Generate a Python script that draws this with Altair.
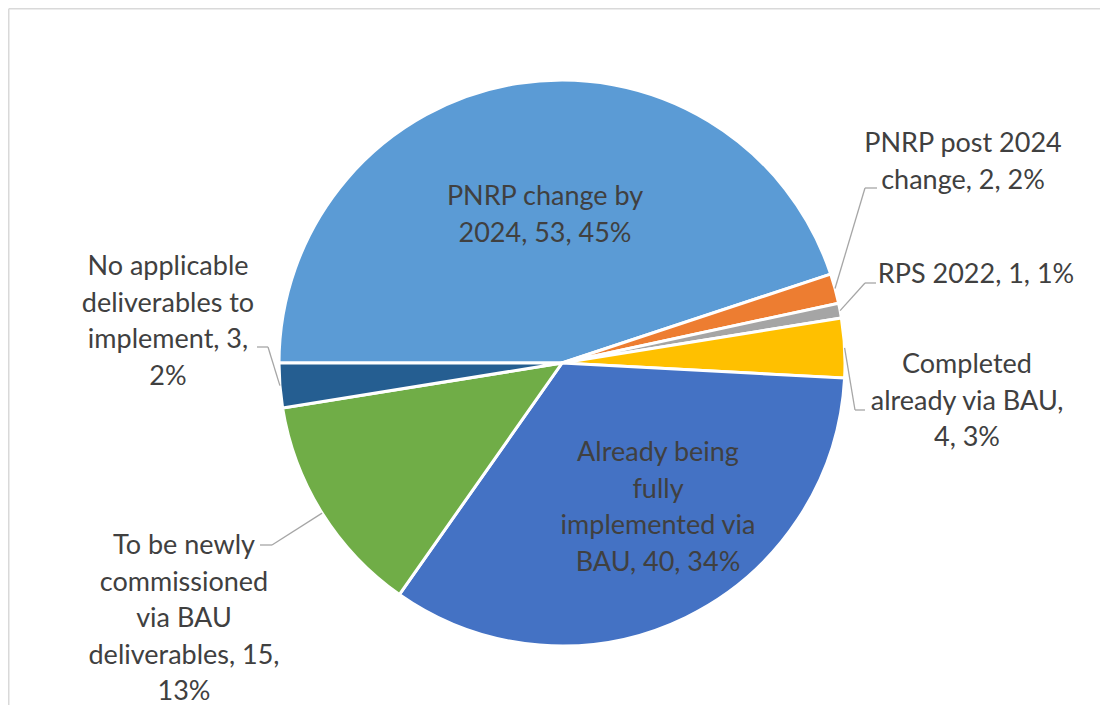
import math
import altair as alt
import pandas as pd

# ---- data ----
categories = [
    "PNRP change by 2024",
    "PNRP post 2024 change",
    "RPS 2022",
    "Completed already via BAU",
    "Already being fully implemented via BAU",
    "To be newly commissioned via BAU deliverables",
    "No applicable deliverables to implement",
]
values = [53, 2, 1, 4, 40, 15, 3]
percents = [45, 2, 1, 3, 34, 13, 2]
label_texts = [
    "PNRP change by\n2024, 53, 45%",
    "PNRP post 2024\nchange, 2, 2%",
    "RPS 2022, 1, 1%",
    "Completed\nalready via BAU,\n4, 3%",
    "Already being\nfully\nimplemented via\nBAU, 40, 34%",
    "To be newly\ncommissioned\nvia BAU\ndeliverables, 15,\n13%",
    "No applicable\ndeliverables to\nimplement, 3,\n2%",
]
colors = ["#5B9BD5", "#ED7D31", "#A5A5A5", "#FFC000", "#4472C4", "#70AD47", "#255E91"]

# ---- layout (screen pixels) ----
PAD_L, PAD_T = 2, 2
OX, OY = 8 + PAD_L, 8 + PAD_T
W, H = 1090, 695
CX, CY, R = 562, 363, 283
START = 1.5 * math.pi  # first slice starts at 9 o'clock

# label first-line positions and leader elbows (None = label inside slice)
label_pos = [(545, 197), (963, 144), (976, 275), (967, 365), (658, 453), (184, 546), (168, 267)]
elbows = [None, ((865, 188), (877, 188)), ((865, 283), (876, 283)), ((855, 410), (865, 410)),
          None, ((272, 545), (260, 545)), ((268, 347), (257, 347))]

total = sum(values)
pie_df = pd.DataFrame({"category": categories, "value": values, "order": list(range(len(values)))})

lab_df = pd.DataFrame({
    "text": label_texts,
    "x": [p[0] for p in label_pos],
    "y": [p[1] for p in label_pos],
})

segs = []
cum = 0
for i, v in enumerate(values):
    mid = START + 2 * math.pi * (cum + v / 2) / total
    cum += v
    if elbows[i] is None:
        continue
    sx = CX + R * math.sin(mid)
    sy = CY - R * math.cos(mid)
    (ex, ey), (fx, fy) = elbows[i]
    segs.append({"x": sx, "y": sy, "x2": ex, "y2": ey})
    segs.append({"x": ex, "y": ey, "x2": fx, "y2": fy})
seg_df = pd.DataFrame(segs)

xs = alt.Scale(domain=[OX, OX + W], range=[0, W])
ys = alt.Scale(domain=[OY, OY + H], range=[0, H])

pie = alt.Chart(pie_df).mark_arc(radius=R, stroke="white", strokeWidth=3).encode(
    theta=alt.Theta("value:Q", stack=True,
                    scale=alt.Scale(range=[START, START + 2 * math.pi])),
    color=alt.Color("category:N", scale=alt.Scale(domain=categories, range=colors), legend=None),
    order=alt.Order("order:Q"),
    x=alt.value(CX - OX),
    y=alt.value(CY - OY),
)

leaders = alt.Chart(seg_df).mark_rule(color="#A6A6A6", strokeWidth=1.3).encode(
    x=alt.X("x:Q", scale=xs, axis=None),
    y=alt.Y("y:Q", scale=ys, axis=None),
    x2="x2:Q",
    y2="y2:Q",
)

labels = alt.Chart(lab_df).mark_text(
    font="Lato", fontSize=27, color="#404040", lineBreak="\n", lineHeight=36.5,
    align="center", baseline="middle",
).encode(
    x=alt.X("x:Q", scale=xs, axis=None),
    y=alt.Y("y:Q", scale=ys, axis=None),
    text="text:N",
)

border_df = pd.DataFrame({"x": [8.75], "y": [8.75]})
border_top = alt.Chart(border_df).mark_rule(color="#D9D9D9", strokeWidth=1.5).encode(
    x=alt.X("x:Q", scale=xs, axis=None), x2=alt.value(W + 10), y=alt.Y("y:Q", scale=ys, axis=None)
)
border_left = alt.Chart(border_df).mark_rule(color="#D9D9D9", strokeWidth=1.5).encode(
    x=alt.X("x:Q", scale=xs, axis=None), y=alt.Y("y:Q", scale=ys, axis=None), y2=alt.value(H + 10)
)

chart = alt.layer(border_top, border_left, pie, leaders, labels).properties(
    width=W, height=H,
    autosize=alt.AutoSizeParams(type="none"),
    padding={"left": PAD_L, "top": PAD_T, "right": 0, "bottom": 0},
    background="white",
).configure_view(stroke=None)

chart.save("out.html", embed_options={"renderer": "svg", "actions": False})
